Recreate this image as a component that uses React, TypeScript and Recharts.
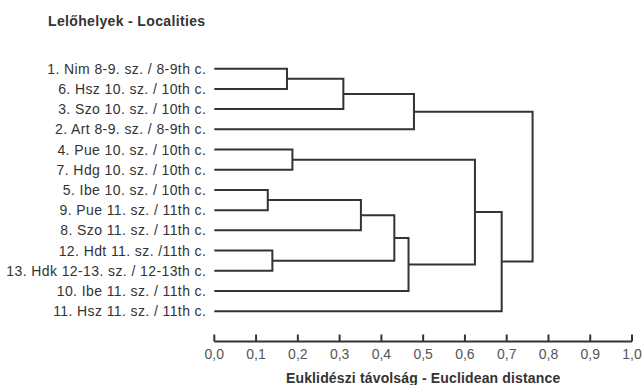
import { ComposedChart, Scatter, XAxis, YAxis } from 'recharts'

// leaves in the order they are drawn, top to bottom
const leafLabels = [
  '1. Nim 8-9. sz. / 8-9th c.',
  '6. Hsz 10. sz. / 10th c.',
  '3. Szo 10. sz. / 10th c.',
  '2. Art 8-9. sz. / 8-9th c.',
  '4. Pue 10. sz. / 10th c.',
  '7. Hdg 10. sz. / 10th c.',
  '5. Ibe 10. sz. / 10th c.',
  '9. Pue 11. sz. / 11th c.',
  '8. Szo 11. sz. / 11th c.',
  '12. Hdt 11. sz. /11th c.',
  '13. Hdk 12-13. sz. / 12-13th c.',
  '10. Ibe 11. sz. / 11th c.',
  '11. Hsz 11. sz. / 11th c.',
]

// merges: node ids 0..12 are leaves, 13+ are merges in this order
const mergePairs: [number, number][] = [
  [0, 1],
  [13, 2],
  [14, 3],
  [4, 5],
  [6, 7],
  [17, 8],
  [9, 10],
  [18, 19],
  [20, 11],
  [16, 21],
  [22, 12],
  [15, 23],
]
const mergeHeights = [0.174, 0.309, 0.478, 0.187, 0.128, 0.351, 0.139, 0.431, 0.465, 0.624, 0.688, 0.762]

const distanceTicks = [0, 0.1, 0.2, 0.3, 0.4, 0.5, 0.6, 0.7, 0.8, 0.9, 1.0]
const rowTicks = leafLabels.map((_, i) => i)

const n = leafLabels.length

function nodeX(id: number): number {
  return id < n ? 0 : mergeHeights[id - n]
}

function nodeY(id: number): number {
  if (id < n) return id
  const [a, b] = mergePairs[id - n]
  return (nodeY(a) + nodeY(b)) / 2
}

const links = mergePairs.map(([a, b], k) => {
  const h = mergeHeights[k]
  return [
    { x: nodeX(a), y: nodeY(a) },
    { x: h, y: nodeY(a) },
    { x: h, y: nodeY(b) },
    { x: nodeX(b), y: nodeY(b) },
  ]
})

const font = '"Liberation Sans", Arial, sans-serif'

export default function App() {
  return (
    <div
      style={{
        position: 'absolute',
        left: 0,
        top: 0,
        width: 644,
        height: 385,
        background: '#fff',
        fontFamily: font,
      }}
    >
      <div
        style={{
          position: 'absolute',
          left: 48,
          top: 13,
          fontSize: 14,
          fontWeight: 'bold',
          color: '#333',
          lineHeight: '16px',
          letterSpacing: '0.35px',
        }}
      >
        Lelőhelyek - Localities
      </div>
      <ComposedChart width={644} height={385} margin={{ top: 58.6, right: 12, bottom: 0, left: 0 }}>
        <XAxis
          type="number"
          dataKey="x"
          domain={[0, 1]}
          ticks={distanceTicks}
          interval={0}
          tickFormatter={(v: number) => v.toFixed(1).replace('.', ',')}
          tick={{ fill: '#555', fontSize: 14 }}
          tickSize={-7}
          tickMargin={15}
          axisLine={{ stroke: '#333', strokeWidth: 2 }}
          tickLine={{ stroke: '#333', strokeWidth: 2 }}
          height={43.5}
          label={{
            value: 'Euklidészi távolság - Euclidean distance',
            position: 'insideBottom',
            offset: 2,
            fill: '#333',
            fontSize: 14,
            fontWeight: 'bold',
            style: { letterSpacing: '0.15px' },
          }}
        />
        <YAxis
          type="number"
          dataKey="y"
          domain={[-0.5, 13.5]}
          reversed
          ticks={rowTicks}
          interval={0}
          tickFormatter={(i: number) => leafLabels[i] ?? ''}
          tick={{ fill: '#333', fontSize: 14, style: { letterSpacing: '0.4px' } }}
          tickSize={0}
          tickMargin={8}
          axisLine={false}
          tickLine={false}
          width={214.3}
        />
        {links.map((pts, i) => (
          <Scatter
            key={i}
            data={pts}
            line={{ stroke: '#333', strokeWidth: 2 }}
            lineType="joint"
            shape={() => <g />}
            isAnimationActive={false}
          />
        ))}
      </ComposedChart>
    </div>
  )
}
